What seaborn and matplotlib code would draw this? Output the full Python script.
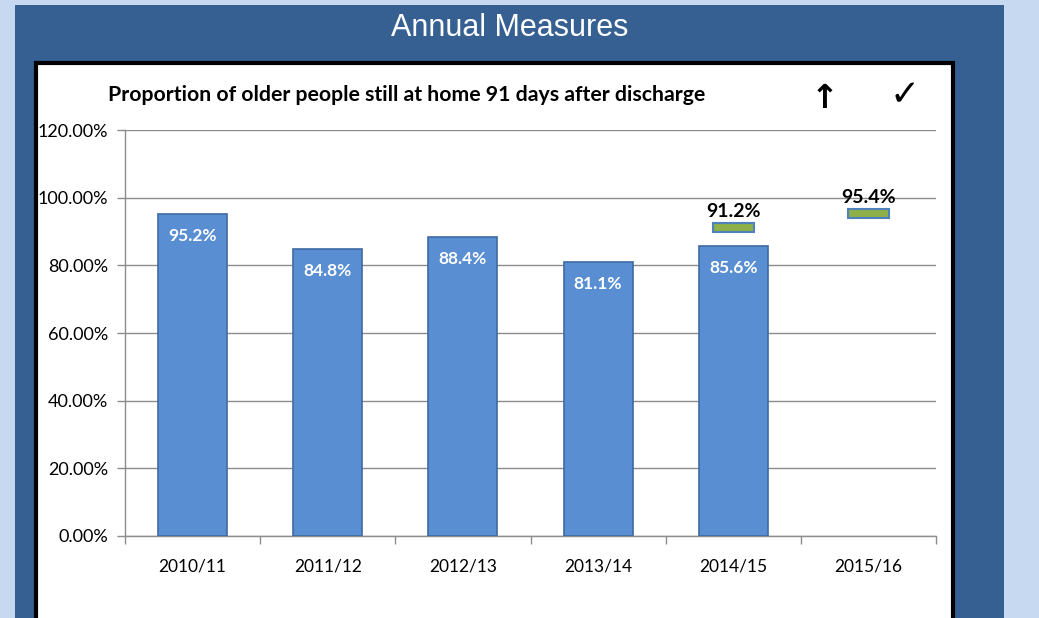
import matplotlib
matplotlib.use("Agg")
import matplotlib.pyplot as plt
from matplotlib.patches import Rectangle
from matplotlib.ticker import FuncFormatter, FixedLocator
import seaborn as sns
import pandas as pd
import numpy as np

# ---- data ----
years = ["2010/11", "2011/12", "2012/13", "2013/14", "2014/15", "2015/16"]
actual_years = ["2010/11", "2011/12", "2012/13", "2013/14", "2014/15"]
actual_values = [95.2, 84.8, 88.4, 81.1, 85.6]
target_years = ["2014/15", "2015/16"]
target_values = [91.2, 95.4]
yticks = [0, 20, 40, 60, 80, 100, 120]

sns.set_theme(style="white")
plt.rcParams['font.family'] = ['Lato', 'DejaVu Sans']

W, H = 1039, 618
fig = plt.figure(figsize=(W / 100, H / 100), dpi=100)
fig.patch.set_facecolor("#C6D9F0")

def px(x0, y0, x1, y1):
    return (x0 / W, 1 - y1 / H, (x1 - x0) / W, (y1 - y0) / H)

# dark panel
l, b, w, h = px(15, 5, 1004, 640)
fig.patches.append(Rectangle((l, b), w, h, transform=fig.transFigure,
                             facecolor="#366092", edgecolor="none", zorder=-2))
# white chart box
l, b, w, h = px(36, 63, 953, 640)
fig.patches.append(Rectangle((l, b), w, h, transform=fig.transFigure,
                             facecolor="white", edgecolor="black", linewidth=3, zorder=-1))

fig.text(510 / W, 1 - 28 / H, "Annual Measures", color="white", fontsize=22,
         family=['Liberation Sans Narrow', 'Liberation Sans', 'DejaVu Sans'],
         ha="center", va="center")
fig.text(108 / W, 1 - 95 / H,
         "Proportion of older people still at home 91 days after discharge",
         fontsize=15.3, fontweight="bold", color="black", ha="left", va="center")
fig.text(825 / W, 1 - 98 / H, "\u2191", fontsize=24, color="black", fontweight="bold",
         family=['DejaVu Sans'], ha="center", va="center")
fig.text(905 / W, 1 - 95 / H, "\u2713", fontsize=26, color="black", fontweight="bold",
         family=['DejaVu Sans'], ha="center", va="center")

ax = fig.add_axes(px(125, 130, 936, 536))
ax.set_zorder(2)
ax.set_facecolor("none")

df = pd.DataFrame({"year": actual_years, "value": actual_values})
sns.barplot(data=df, x="year", y="value", order=years, color="#5A8ED2",
            width=0.51, edgecolor="#3E6BA3", linewidth=1.2, saturation=1,
            ax=ax, zorder=3)

# target markers
cat_pos = {y: i for i, y in enumerate(years)}
tx = [cat_pos[y] for y in target_years]
ax.bar(tx, [2.6] * len(tx), bottom=[v - 1.3 for v in target_values], width=0.3,
       color="#8DB04A", edgecolor="#4F81BD", linewidth=1.5, zorder=4)

for y, v in zip(actual_years, actual_values):
    ax.text(cat_pos[y], v - 6.5, f"{v:.1f}%", color="white", fontsize=12.5,
            fontweight="bold", ha="center", va="center", zorder=5)
for x, v in zip(tx, target_values):
    ax.text(x, v + 4.6, f"{v:.1f}%", color="black", fontsize=14,
            fontweight="bold", ha="center", va="center", zorder=5)

ax.set_ylim(0, 120)
ax.set_xlim(-0.5, len(years) - 0.5)
ax.set_yticks(yticks)
ax.yaxis.set_major_formatter(FuncFormatter(lambda v, p: f"{v:.2f}%"))
ax.grid(axis="y", color="#8C8C8C", linewidth=1, zorder=0)
ax.set_axisbelow(True)
ax.set_xlabel("")
ax.set_ylabel("")
for s in ["top", "right"]:
    ax.spines[s].set_visible(False)
for s in ["left", "bottom"]:
    ax.spines[s].set_color("#8C8C8C")
    ax.spines[s].set_linewidth(1)

ax.xaxis.set_major_locator(FixedLocator(range(len(years))))
ax.set_xticklabels(years)
ax.xaxis.set_minor_locator(FixedLocator(np.arange(-0.5, len(years), 1.0)))
ax.tick_params(axis="x", which="major", length=0, pad=16, labelsize=12.5, colors="black")
ax.tick_params(axis="x", which="minor", length=6, width=1, color="#8C8C8C", direction="out", bottom=True)
ax.tick_params(axis="y", length=6, width=1, color="#8C8C8C", direction="out", left=True,
               labelsize=13, labelcolor="black", pad=6)

fig.savefig("out.png", dpi=100, facecolor=fig.get_facecolor())
